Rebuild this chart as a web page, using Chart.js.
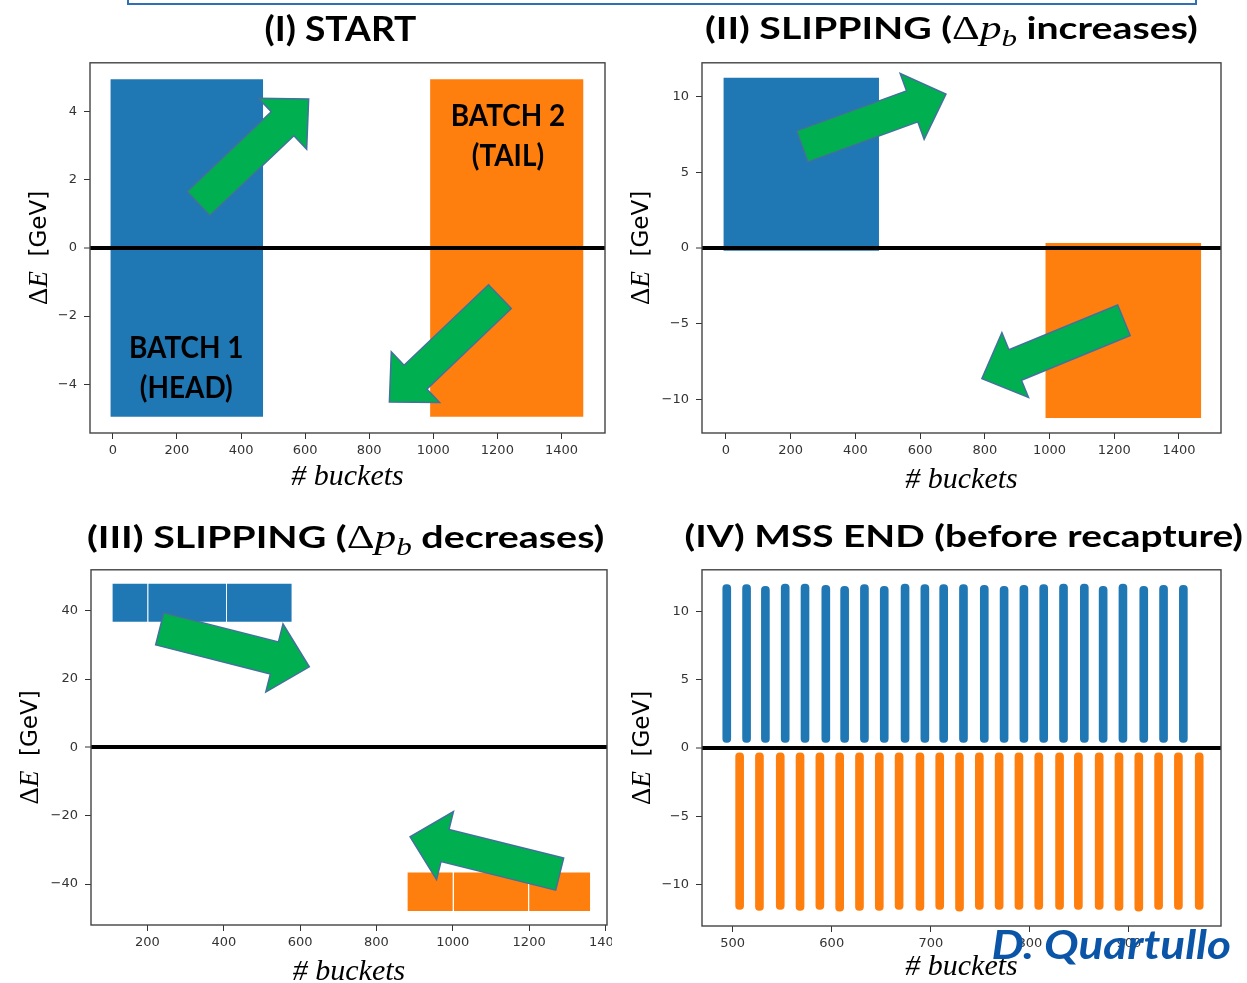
<!DOCTYPE html>
<html>
<head>
<meta charset="utf-8">
<script src="https://cdn.jsdelivr.net/npm/chart.js@4.4.0/dist/chart.umd.min.js"></script>
<style>
body{margin:0;width:1247px;height:983px;overflow:hidden;background:#fff;position:relative;font-family:Lato,'Open Sans',sans-serif}
.box{position:absolute;background:#fff}
.box canvas{display:block}
.ttl{position:absolute;white-space:nowrap;font-weight:700;line-height:44px;height:44px;color:#000;transform-origin:center center;z-index:5}
.m{font-family:'Liberation Serif',serif;font-weight:400;font-size:1.1em}
.m sub{font-size:0.72em;vertical-align:-0.3em}
.sig{position:absolute;white-space:nowrap;font-weight:700;font-style:italic;font-size:40px;line-height:46px;height:46px;color:#0b55a8;transform-origin:center center;z-index:6}
.frameTop{position:absolute;left:127px;top:-20px;width:1066px;height:21px;border:2px solid #2f6fb3;z-index:7}
.mark{position:absolute;left:0;top:175px;width:3px;height:18px;background:#5b9bd5}
</style>
</head>
<body>
<div class="frameTop"></div>
<div class="mark"></div>

<div class="ttl" style="font-size:34px" data-cx="340" data-cy="28" data-w="152">(I) START</div>
<div class="ttl" style="font-size:30px" data-cx="951" data-cy="27" data-w="493">(II) SLIPPING (<span class="m">Δ<i>p</i><sub><i>b</i></sub></span> increases)</div>
<div class="ttl" style="font-size:31px" data-cx="345" data-cy="536" data-w="517">(III) SLIPPING (<span class="m">Δ<i>p</i><sub><i>b</i></sub></span> decreases)</div>
<div class="ttl" style="font-size:31px" data-cx="964" data-cy="535" data-w="559">(IV) MSS END (before recapture)</div>
<div class="sig" data-cx="1111" data-cy="944" data-w="240">D. Quartullo</div>

<div class="box" style="left:0;top:48px;z-index:1"><canvas id="c1" width="615" height="452"></canvas></div>
<div class="box" style="left:612px;top:48px;z-index:2"><canvas id="c2" width="619" height="452"></canvas></div>
<div class="box" style="left:0;top:555px;z-index:1"><canvas id="c3" width="627" height="435"></canvas></div>
<div class="box" style="left:612px;top:555px;z-index:2"><canvas id="c4" width="635" height="435"></canvas></div>

<script>
const BLUE = '#1f77b4';
const ORANGE = '#ff7f0e';

// (I) start: bucket span and energy span of each batch
const startBuckets1 = [-8, 469];
const startBuckets2 = [990, 1469];
const startDE1 = [-4.95, 4.95];
const startDE2 = [-4.95, 4.95];
const startXRange = [-71.5, 1536];
const startYRange = [-5.43, 5.43];
const startXTicks = [0, 200, 400, 600, 800, 1000, 1200, 1400];
const startYTicks = [-4, -2, 0, 2, 4];

// (II) slipping, dp increases
const slipUpBuckets1 = [-8, 473];
const slipUpBuckets2 = [987, 1469];
const slipUpDE1 = [-0.18, 11.23];
const slipUpDE2 = [-11.23, 0.33];
const slipUpXRange = [-74, 1530];
const slipUpYRange = [-12.22, 12.22];
const slipUpXTicks = [0, 200, 400, 600, 800, 1000, 1200, 1400];
const slipUpYTicks = [-10, -5, 0, 5, 10];

// (III) slipping, dp decreases (batches split in three trains)
const slipDownBuckets1 = [[108, 200], [202, 406], [408, 578]];
const slipDownBuckets2 = [[881, 1000], [1003, 1197], [1200, 1360]];
const slipDownDE1 = [36.8, 47.9];
const slipDownDE2 = [-47.9, -36.6];
const slipDownXRange = [52, 1404];
const slipDownYRange = [-52, 52];
const slipDownXTicks = [200, 400, 600, 800, 1000, 1200, 1400];
const slipDownYTicks = [-40, -20, 0, 20, 40];

// (IV) end of MSS, one bar per bunch
const endBuckets1 = [494, 514, 533, 553, 573, 594, 613, 633, 653, 674, 694, 713, 733, 754, 774, 794, 814, 834, 855, 874, 894, 915, 935, 955];
const endHigh1 = [11.96, 11.96, 11.84, 12.0, 12.0, 11.91, 11.84, 11.96, 11.84, 12.0, 11.96, 11.96, 11.96, 11.91, 11.84, 11.91, 11.96, 12.0, 12.0, 11.84, 12.0, 11.84, 11.91, 11.91];
const endLow1 = [0.4, 0.4, 0.4, 0.4, 0.4, 0.4, 0.4, 0.4, 0.4, 0.4, 0.4, 0.4, 0.4, 0.4, 0.4, 0.4, 0.4, 0.4, 0.4, 0.4, 0.4, 0.4, 0.4, 0.4];
const endBuckets2 = [507, 527, 548, 568, 588, 608, 628, 648, 668, 689, 709, 729, 749, 769, 789, 809, 830, 849, 870, 890, 910, 930, 950, 971];
const endHigh2 = [-0.36, -0.36, -0.36, -0.36, -0.36, -0.36, -0.36, -0.36, -0.36, -0.36, -0.36, -0.36, -0.36, -0.36, -0.36, -0.36, -0.36, -0.36, -0.36, -0.36, -0.36, -0.36, -0.36, -0.36];
const endLow2 = [-11.84, -11.91, -11.84, -11.91, -11.84, -11.96, -11.91, -11.91, -11.84, -11.91, -11.84, -11.96, -11.84, -11.84, -11.84, -11.84, -11.84, -11.84, -11.84, -11.91, -11.96, -11.84, -11.84, -11.84];
const endXRange = [469, 993];
const endYRange = [-13.05, 13.05];
const endXTicks = [500, 600, 700, 800, 900];
const endYTicks = [-10, -5, 0, 5, 10];

// green arrows: [tail x, tail y, tip x, tip y] in data units
const startArrows = [[267, 1.30, 611, 4.37], [1208, -1.43, 863, -4.52]];
const slipUpArrows = [[236, 6.7, 680, 10.16], [1230, -4.78, 791, -8.63]];
const slipDownArrows = [[232, 34.7, 624, 23.6], [1280, -37.1, 888, -26.2]];
const startLabels = [['BATCH 2', 1233, 3.88], ['(TAIL)', 1233, 2.7], ['BATCH 1', 229, -2.94], ['(HEAD)', 229, -4.12]];

function blockSets(segs, de, color) {
    return segs.map(s => ({
        data: [{x: s[0], y: de[1]}, {x: s[1], y: de[1]}],
        fill: {value: de[0]},
        backgroundColor: color,
        borderColor: 'rgba(0,0,0,0)',
        borderWidth: 0,
        pointRadius: 0,
        tension: 0
    }));
}

function barSet(xs, lows, highs, color) {
    return {
        data: xs.map((x, i) => ({x: x, y: [lows[i], highs[i]]})),
        backgroundColor: color,
        barThickness: 8,
        borderRadius: 4,
        borderSkipped: false,
        grouped: false
    };
}

function drawArrow(ctx, x0, y0, x1, y1) {
    const dx = x1 - x0, dy = y1 - y0, len = Math.hypot(dx, dy);
    const ux = dx / len, uy = dy / len, nx = -uy, ny = ux;
    const w = 16.5, hw = 35, hl = 36;
    const bx = x1 - ux * hl, by = y1 - uy * hl;
    const pts = [[x0 + nx * w, y0 + ny * w], [bx + nx * w, by + ny * w], [bx + nx * hw, by + ny * hw], [x1, y1],
        [bx - nx * hw, by - ny * hw], [bx - nx * w, by - ny * w], [x0 - nx * w, y0 - ny * w]];
    ctx.beginPath();
    pts.forEach((p, i) => i ? ctx.lineTo(p[0], p[1]) : ctx.moveTo(p[0], p[1]));
    ctx.closePath();
    ctx.fillStyle = '#00b050';
    ctx.fill();
    ctx.lineWidth = 1.5;
    ctx.strokeStyle = '#41719c';
    ctx.stroke();
}

// frame, arrows, inner labels and the y title
const decor = {
    id: 'decor',
    afterDraw(chart, args, opts) {
        const {ctx, chartArea, scales} = chart;
        ctx.save();
        ctx.strokeStyle = '#444';
        ctx.lineWidth = 1.4;
        ctx.strokeRect(chartArea.left, chartArea.top, chartArea.right - chartArea.left, chartArea.bottom - chartArea.top);
        (opts.arrows || []).forEach(a => {
            drawArrow(ctx, scales.x.getPixelForValue(a[0]), scales.y.getPixelForValue(a[1]),
                scales.x.getPixelForValue(a[2]), scales.y.getPixelForValue(a[3]));
        });
        (opts.labels || []).forEach(l => {
            ctx.save();
            ctx.translate(scales.x.getPixelForValue(l[1]), scales.y.getPixelForValue(l[2]));
            ctx.scale(0.9, 1);
            ctx.font = '700 31px Lato';
            ctx.fillStyle = '#000';
            ctx.textAlign = 'center';
            ctx.textBaseline = 'middle';
            ctx.fillText(l[0], 0, 0);
            ctx.restore();
        });
        // y title: ΔE [GeV]
        const parts = [['Δ', '27px "Liberation Serif"'], ['E', 'italic 27px "Liberation Serif"'], ['  [GeV]', '23px "DejaVu Sans"']];
        let total = 0;
        parts.forEach(p => { ctx.font = p[1]; total += ctx.measureText(p[0]).width; });
        ctx.translate(chartArea.left - opts.yTitleOffset, (chartArea.top + chartArea.bottom) / 2);
        ctx.rotate(-Math.PI / 2);
        ctx.fillStyle = '#000';
        ctx.textBaseline = 'middle';
        ctx.textAlign = 'left';
        let x = -total / 2;
        parts.forEach(p => { ctx.font = p[1]; ctx.fillText(p[0], x, 0); x += ctx.measureText(p[0]).width; });
        ctx.restore();
    }
};

const tickFont = {family: 'DejaVu Sans', size: 13};
const fmt = v => v < 0 ? '\u2212' + Math.abs(v) : String(v);

function makeChart(id, type, datasets, xr, yr, xt, yt, lay, extra) {
    return new Chart(document.getElementById(id), {
        type: type,
        data: {datasets: datasets},
        plugins: [decor],
        options: {
            responsive: false,
            devicePixelRatio: 1,
            animation: false,
            events: [],
            layout: {padding: {top: 10, right: lay.right, left: 0, bottom: 0}},
            scales: {
                x: {
                    type: 'linear',
                    min: xr[0], max: xr[1],
                    offset: false,
                    border: {display: false},
                    grid: {drawOnChartArea: false, offset: false, tickColor: '#333', tickLength: 6, tickWidth: 1},
                    ticks: {autoSkip: false, maxRotation: 0, color: '#333', font: tickFont, padding: 4, callback: fmt},
                    afterBuildTicks: s => { s.ticks = xt.map(v => ({value: v})); },
                    title: {display: true, text: '# buckets', color: '#000', font: {family: 'Liberation Serif', size: 30, style: 'italic'}, padding: {top: 0, bottom: lay.titlePad}},
                    afterFit: s => { s.height = lay.xHeight; }
                },
                y: {
                    min: yr[0], max: yr[1],
                    border: {display: false},
                    grid: {
                        z: 1,
                        color: c => c.tick && c.tick.value === 0 ? '#000' : 'rgba(0,0,0,0)',
                        lineWidth: c => c.tick && c.tick.value === 0 ? 4 : 1,
                        tickColor: '#333', tickLength: 6, tickWidth: 1
                    },
                    ticks: {color: '#333', font: tickFont, padding: 7, callback: fmt},
                    afterBuildTicks: s => { s.ticks = yt.map(v => ({value: v})); },
                    afterFit: s => { s.width = lay.yWidth; }
                }
            },
            plugins: {
                legend: {display: false},
                tooltip: {enabled: false},
                decor: extra
            }
        }
    });
}

makeChart('c1', 'line',
    blockSets([startBuckets1], startDE1, BLUE).concat(blockSets([startBuckets2], startDE2, ORANGE)),
    startXRange, startYRange, startXTicks, startYTicks,
    {right: 10, xHeight: 67, yWidth: 90, titlePad: 5},
    {arrows: startArrows, labels: startLabels, yTitleOffset: 50});

makeChart('c2', 'line',
    blockSets([slipUpBuckets1], slipUpDE1, BLUE).concat(blockSets([slipUpBuckets2], slipUpDE2, ORANGE)),
    slipUpXRange, slipUpYRange, slipUpXTicks, slipUpYTicks,
    {right: 10, xHeight: 67, yWidth: 90, titlePad: 2},
    {arrows: slipUpArrows, yTitleOffset: 60});

makeChart('c3', 'line',
    blockSets(slipDownBuckets1, slipDownDE1, BLUE).concat(blockSets(slipDownBuckets2, slipDownDE2, ORANGE)),
    slipDownXRange, slipDownYRange, slipDownXTicks, slipDownYTicks,
    {right: 20, xHeight: 65, yWidth: 91, titlePad: 0},
    {arrows: slipDownArrows, yTitleOffset: 60});

makeChart('c4', 'bar',
    [barSet(endBuckets1, endLow1, endHigh1, BLUE), barSet(endBuckets2, endLow2, endHigh2, ORANGE)],
    endXRange, endYRange, endXTicks, endYTicks,
    {right: 26, xHeight: 64, yWidth: 90, titlePad: 5},
    {yTitleOffset: 59});

// centre the titles and squeeze them to the slide widths
document.querySelectorAll('.ttl, .sig').forEach(el => {
    const cx = +el.dataset.cx, cy = +el.dataset.cy, w = +el.dataset.w;
    const nat = el.offsetWidth;
    el.style.left = (cx - nat / 2) + 'px';
    el.style.top = (cy - el.offsetHeight / 2) + 'px';
    el.style.transform = 'scaleX(' + (w / nat) + ')';
});
</script>
</body>
</html>
